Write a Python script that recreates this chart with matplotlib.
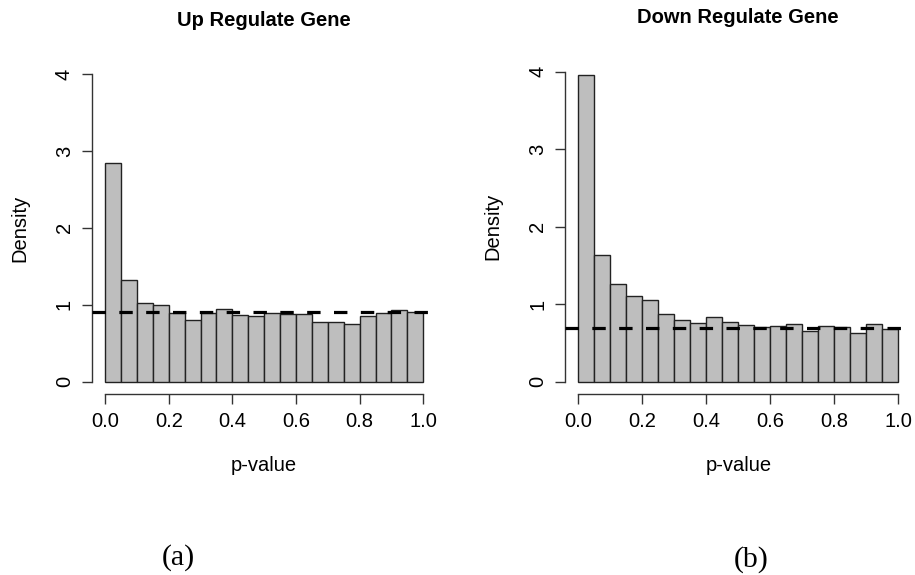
import numpy as np
import matplotlib

matplotlib.use('Agg')
import matplotlib.pyplot as plt

plt.rcParams['font.family'] = ['Liberation Sans', 'DejaVu Sans']

# bin edges shared by both histograms (20 bins of width 0.05)
bin_edges = np.linspace(0, 1, 21)

# densities
up_density = [2.84, 1.32, 1.03, 1.00, 0.89, 0.80, 0.89, 0.94, 0.87, 0.85,
              0.89, 0.88, 0.88, 0.77, 0.78, 0.75, 0.85, 0.89, 0.93, 0.90]
up_level = 0.91

down_density = [3.96, 1.64, 1.26, 1.10, 1.05, 0.87, 0.79, 0.76, 0.83, 0.77,
                0.73, 0.70, 0.72, 0.75, 0.65, 0.72, 0.70, 0.63, 0.75, 0.68]
down_level = 0.69

x_ticks = [0.0, 0.2, 0.4, 0.6, 0.8, 1.0]
y_ticks = [0, 1, 2, 3, 4]

# title, data, level, caption, axes rect, caption position (figure coords)
panels = [
    ("Up Regulate Gene", up_density, up_level, "(a)",
     [0.1009, 0.3148, 0.3756, 0.5776], (0.1945, 0.0296)),
    ("Down Regulate Gene", down_density, down_level, "(b)",
     [0.618, 0.3146, 0.3777, 0.5823], (0.8208, 0.0270)),
]

FS = 14.5

fig = plt.figure(figsize=(9.15, 5.75), dpi=100, facecolor='w')

for title, dens, level, tag, rect, tag_pos in panels:
    ax = fig.add_axes(rect)
    ax.hist(bin_edges[:-1], bins=bin_edges, weights=dens,
            color='#BEBEBE', edgecolor='#222222', linewidth=1.0)
    ax.axhline(level, color='black', lw=2.3, linestyle=(0, (4.2, 4.2)), zorder=3)

    ax.set_xlim(-0.04, 1.04)
    ax.set_ylim(-0.16, 4.16)
    ax.patch.set_visible(False)

    # R-style axes: lines only between the first and last tick
    for side in ('top', 'right'):
        ax.spines[side].set_visible(False)
    ax.spines['left'].set_bounds(0, 4)
    ax.spines['bottom'].set_bounds(0, 1)
    for side in ('left', 'bottom'):
        ax.spines[side].set_linewidth(1.0)
        ax.spines[side].set_color('#333333')

    ax.set_xticks(x_ticks)
    ax.set_xticklabels(['{:.1f}'.format(t) for t in x_ticks])
    ax.set_yticks(y_ticks)
    ax.set_yticklabels([str(t) for t in y_ticks], rotation=90, va='center')
    ax.tick_params(axis='both', length=7.2, width=1.0, color='#333333',
                   labelsize=FS, pad=6)

    ax.set_xlabel('p-value', fontsize=FS, va='center')
    ax.xaxis.set_label_coords(0.5, -0.214)
    ax.set_ylabel('Density', fontsize=FS, va='center')
    ax.yaxis.set_label_coords(-0.21, 0.5)
    ax.set_title(title, fontsize=14.5, fontweight='bold', pad=26)

    fig.text(tag_pos[0], tag_pos[1], tag, ha='center', va='center',
             fontsize=21.5, family=['Liberation Serif', 'DejaVu Serif'])

fig.savefig('out.png', dpi=100)
